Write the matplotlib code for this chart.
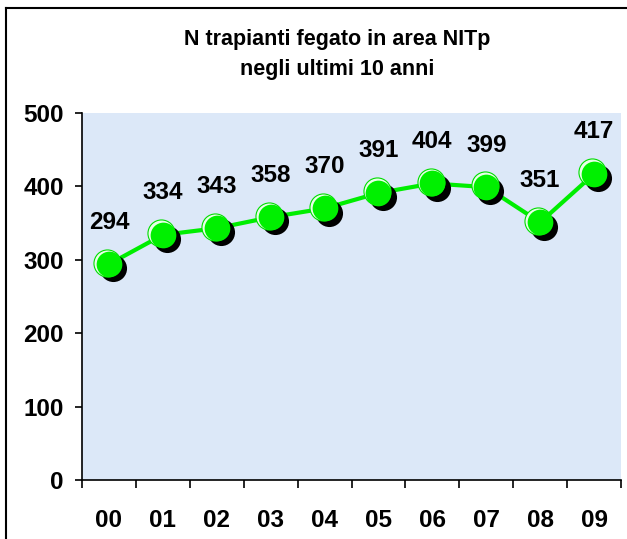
import matplotlib
matplotlib.use("Agg")
import matplotlib.pyplot as plt
import matplotlib.transforms as mtransforms
import numpy as np

categories = ["00", "01", "02", "03", "04", "05", "06", "07", "08", "09"]
values = [294, 334, 343, 358, 370, 391, 404, 399, 351, 417]
yticks = [0, 100, 200, 300, 400, 500]
title_lines = ["N trapianti fegato in area NITp", "negli ultimi 10 anni"]

plt.rcParams['font.family'] = ['Liberation Sans', 'DejaVu Sans']

fig = plt.figure(figsize=(6.27, 5.39), dpi=100)
fig.patch.set_facecolor('white')

# outer frame (left and top visible)
fig.add_artist(plt.Line2D([6/627, 6/627], [0, 1 - 8/539], color='black', lw=1.5, transform=fig.transFigure))
fig.add_artist(plt.Line2D([6/627, 1.2], [1 - 8/539, 1 - 8/539], color='black', lw=1.5, transform=fig.transFigure))

ax = fig.add_axes([82/627, 59/539, (621-82)/627, (480-113)/539])
ax.set_facecolor('#dce8f8')

x = np.arange(len(categories))
ax.set_xlim(-0.5, len(categories) - 0.5)
ax.set_ylim(0, 500)

ax.plot(x, values, '-', color='#00ee00', lw=3, zorder=2)
# shadow
shadow = mtransforms.offset_copy(ax.transData, fig=fig, x=3, y=-3, units='points')
ax.plot(x, values, 'o', ms=19.5, color='black', mew=0, transform=shadow, zorder=3)
# highlight crescent
hl = mtransforms.offset_copy(ax.transData, fig=fig, x=-1.2, y=1.2, units='points')
ax.plot(x, values, 'o', ms=19.5, markerfacecolor='#e8ffe8', markeredgecolor='#00dd00',
        markeredgewidth=0.8, transform=hl, zorder=4)
ax.plot(x, values, 'o', ms=18.5, markerfacecolor='#00f000', markeredgecolor='#00f000',
        markeredgewidth=0, zorder=5)

for xi, v in zip(x, values):
    ax.annotate(str(v), (xi, v), xytext=(0, 22), textcoords='offset points',
                ha='center', va='bottom', fontsize=17.5, fontweight='bold', color='black')

ax.set_xticks(np.arange(-0.5, len(categories), 1.0))
ax.set_xticklabels([])
ax.set_xticks(x, minor=True)
ax.set_xticklabels(categories, minor=True, fontsize=17.5, fontweight='bold')
ax.tick_params(axis='x', which='major', direction='out', length=6, width=1.2)
ax.tick_params(axis='x', which='minor', length=0, pad=21)

ax.set_yticks(yticks)
ax.set_yticklabels([str(t) for t in yticks], fontsize=17.5, fontweight='bold')
ax.tick_params(axis='y', direction='out', length=5, width=1.2, pad=8)

for s in ['top', 'right']:
    ax.spines[s].set_visible(False)
for s in ['left', 'bottom']:
    ax.spines[s].set_linewidth(1.2)

for line, ypix in zip(title_lines, [40, 70]):
    fig.text(337/627, 1 - ypix/539, line, ha='center', va='center', fontsize=15.5,
             fontweight='bold', transform=fig.transFigure)

fig.savefig("out.png", dpi=100)
